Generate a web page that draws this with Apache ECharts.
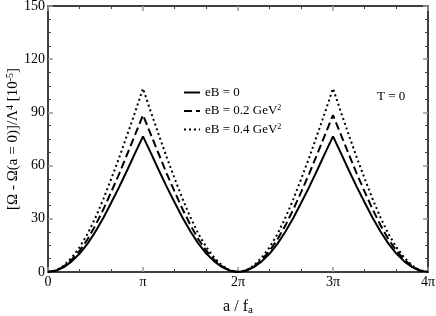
<!DOCTYPE html>
<html>
<head>
<meta charset="utf-8">
<script src="https://cdn.jsdelivr.net/npm/echarts@6/dist/echarts.min.js"></script>
<style>html,body{margin:0;padding:0;background:#fff;}#c{width:436px;height:316px;}</style>
</head>
<body>
<div id="c"></div>
<script>
// x positions in units of pi (a/f_a = x * pi), sampled every pi/12
var STEP = 1 / 12;
var xTicks = ['0', 'π', '2π', '3π', '4π'];
var seriesNames = ['eB = 0', 'eB = 0.2 GeV{sup|2}', 'eB = 0.4 GeV{sup|2}'];

// eB = 0 (solid)
var solid = [
  0, 0.7, 2.7, 6, 10.4, 16, 22.8, 30.6, 39.2, 48, 57.4, 67, 76.5,
  67, 57.4, 48, 39.2, 30.6, 22.8, 16, 10.4, 6, 2.7, 0.7, 0,
  0.7, 2.7, 6, 10.4, 16, 22.8, 30.6, 39.2, 48, 57.4, 67, 76.5,
  67, 57.4, 48, 39.2, 30.6, 22.8, 16, 10.4, 6, 2.7, 0.7, 0
];
// eB = 0.2 GeV^2 (dashed)
var dashed = [
  0, 0.8, 3.1, 6.9, 12, 18.5, 26.4, 35.4, 45.3, 55.5, 66.4, 77.4, 88.5,
  77.4, 66.4, 55.5, 45.3, 35.4, 26.4, 18.5, 12, 6.9, 3.1, 0.8, 0,
  0.8, 3.1, 6.9, 12, 18.5, 26.4, 35.4, 45.3, 55.5, 66.4, 77.4, 88.5,
  77.4, 66.4, 55.5, 45.3, 35.4, 26.4, 18.5, 12, 6.9, 3.1, 0.8, 0
];
// eB = 0.4 GeV^2 (dotted)
var dotted = [
  0, 0.9, 3.6, 8.1, 14, 21.5, 30.7, 41.2, 52.7, 64.6, 77.3, 90.1, 103.5,
  90.1, 77.3, 64.6, 52.7, 41.2, 30.7, 21.5, 14, 8.1, 3.6, 0.9, 0,
  0.9, 3.6, 8.1, 14, 21.5, 30.7, 41.2, 52.7, 64.6, 77.3, 90.1, 103.5,
  90.1, 77.3, 64.6, 52.7, 41.2, 30.7, 21.5, 14, 8.1, 3.6, 0.9, 0
];

function pairs(vals) {
  return vals.map(function (v, i) { return [i * STEP, v]; });
}

var FONT = 'Liberation Serif';
function richFor(size) {
  return {
    sup: { fontFamily: FONT, fontSize: Math.round(size * 0.65), verticalAlign: 'top', padding: [0, 0, Math.round(size * 0.45), 0], color: '#000' },
    sub: { fontFamily: FONT, fontSize: Math.round(size * 0.7), verticalAlign: 'bottom', padding: [Math.round(size * 0.5), 0, 0, 0], color: '#000' }
  };
}

function axisCommon(showLabel) {
  return {
    axisLine: { show: true, onZero: false, lineStyle: { color: '#000', width: 1.5 } },
    axisTick: { show: true, inside: true, length: 5, lineStyle: { color: '#999', width: 1.5 } },
    minorTick: { show: true, length: 3, lineStyle: { color: '#444', width: 1 } },
    splitLine: { show: false },
    axisLabel: { show: showLabel, color: '#000', fontFamily: FONT, fontSize: 14 }
  };
}

var chart = echarts.init(document.getElementById('c'), null, { renderer: 'canvas' });

var xBottom = Object.assign(axisCommon(true), {
  type: 'value', position: 'bottom', min: 0, max: 4, interval: 1,
  name: 'a / f{sub|a}', nameLocation: 'middle', nameGap: 25, nameMoveOverlap: false,
  nameTextStyle: { color: '#000', fontFamily: FONT, fontSize: 16, rich: richFor(16) }
});
xBottom.minorTick.splitNumber = 3;
xBottom.axisLabel.margin = 3;
xBottom.axisLabel.formatter = function (v) { return xTicks[Math.round(v)]; };

var xTop = Object.assign(axisCommon(false), {
  type: 'value', position: 'top', min: 0, max: 4, interval: 1
});
xTop.minorTick.splitNumber = 3;

var yLeft = Object.assign(axisCommon(true), {
  type: 'value', position: 'left', min: 0, max: 150, interval: 30,
  name: '[Ω - Ω(a = 0)]/Λ{sup|4} [10{sup|-5}]', nameLocation: 'middle', nameGap: 26, nameRotate: 90,
  nameMoveOverlap: false,
  nameTextStyle: { color: '#000', fontFamily: FONT, fontSize: 15, rich: richFor(15) }
});
yLeft.minorTick.splitNumber = 4;
yLeft.axisLabel.margin = 3;

var yRight = Object.assign(axisCommon(false), {
  type: 'value', position: 'right', min: 0, max: 150, interval: 30
});
yRight.minorTick.splitNumber = 4;

function mkSeries(name, data, type, width) {
  return {
    name: name, type: 'line', xAxisIndex: 0, yAxisIndex: 0,
    data: pairs(data), symbol: 'none', smooth: false, animation: false,
    lineStyle: { color: '#000', width: width, type: type },
    itemStyle: { color: '#000' }
  };
}

chart.setOption({
  animation: false,
  backgroundColor: '#fff',
  grid: { left: 48, right: 8, top: 6, bottom: 44, containLabel: false, outerBoundsMode: 'none' },
  xAxis: [xBottom, xTop],
  yAxis: [yLeft, yRight],
  legend: {
    orient: 'vertical', left: 178, top: 81,
    itemWidth: 16, itemHeight: 12, itemGap: 5,
    itemStyle: { color: 'transparent', borderColor: 'transparent', borderWidth: 0, opacity: 0 },
    textStyle: { color: '#000', fontFamily: FONT, fontSize: 13, rich: richFor(13) },
    data: seriesNames
  },
  graphic: [{
    type: 'text', left: 377, top: 90,
    style: { text: 'T = 0', fill: '#000', font: '13px "Liberation Serif"' }
  }],
  series: [
    mkSeries(seriesNames[0], solid, 'solid', 2),
    mkSeries(seriesNames[1], dashed, [8, 4], 2),
    mkSeries(seriesNames[2], dotted, [2, 3], 2)
  ]
});
</script>
</body>
</html>
